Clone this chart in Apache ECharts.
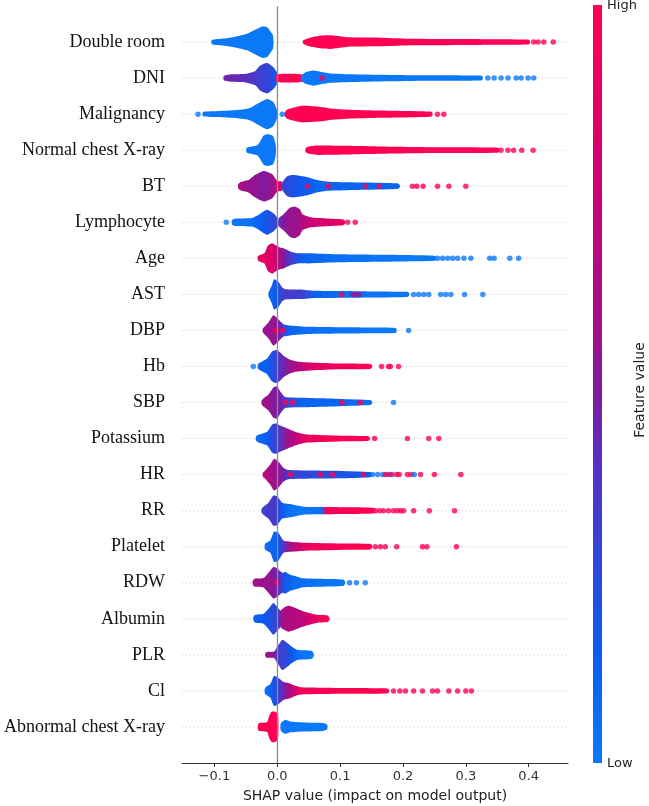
<!DOCTYPE html>
<html lang="en">
<head>
    <meta charset="utf-8">
    <title>SHAP summary plot</title>
    <script src="https://cdn.jsdelivr.net/npm/echarts@6/dist/echarts.min.js"></script>
</head>
<body style="margin:0;background:#fff">
<div id="main" style="width:649px;height:806px;"></div>
<script>
// feature names, top to bottom
var features = ['Double room', 'DNI', 'Malignancy', 'Normal chest X-ray', 'BT', 'Lymphocyte', 'Age', 'AST',
    'DBP', 'Hb', 'SBP', 'Potassium', 'HR', 'RR', 'Platelet', 'RDW', 'Albumin', 'PLR', 'Cl', 'Abnormal chest X-ray'];
var xTicks = [-0.1, 0, 0.1, 0.2, 0.3, 0.4];

// swarm bodies: segments of [shap value, half thickness in rows, feature value 0..1]
var doubleRoomBody = [
    [[-0.104,0.06,0],[-0.085,0.1,0],[-0.067,0.15,0],[-0.048,0.23,0],[-0.032,0.37,0],[-0.022,0.44,0],[-0.015,0.4,0],[-0.011,0.3,0],[-0.007,0.2,0],[-0.006,0.05,0]],
    [[0.041,0.04,1],[0.048,0.1,1],[0.057,0.14,1],[0.07,0.18,1],[0.085,0.19,1],[0.1,0.16,1],[0.112,0.13,1],[0.164,0.12,1],[0.217,0.09,1],[0.324,0.08,1],[0.399,0.07,1],[0.402,0.03,1]]
];
var dniBody = [
    [[-0.085,0.06,0.45],[-0.075,0.1,0.45],[-0.05,0.12,0.4],[-0.035,0.2,0.35],[-0.027,0.35,0.3],[-0.016,0.42,0.3],[-0.006,0.3,0.2],[0,0.14,0.1]],
    [[-0.002,0.1,1],[0.04,0.1,1]],
    [[0.038,0.06,0],[0.045,0.16,0],[0.057,0.21,0],[0.07,0.17,0],[0.085,0.13,0],[0.137,0.1,0],[0.217,0.08,0],[0.324,0.07,0],[0.327,0.03,0]]
];
var malignancyBody = [
    [[-0.118,0.06,0],[-0.1,0.08,0],[-0.075,0.1,0],[-0.06,0.12,0],[-0.048,0.15,0],[-0.04,0.2,0],[-0.032,0.28,0],[-0.016,0.42,0],[-0.006,0.33,0],[-0.001,0.15,0],[0,0.04,0]],
    [[0.012,0.05,1],[0.016,0.13,1],[0.03,0.2,1],[0.041,0.23,1],[0.069,0.2,1],[0.09,0.15,1],[0.112,0.125,1],[0.164,0.1,1],[0.244,0.07,1],[0.247,0.03,1]]
];
var normalXrayBody = [
    [[-0.049,0.06,0],[-0.045,0.09,0],[-0.032,0.14,0],[-0.027,0.25,0],[-0.022,0.4,0],[-0.016,0.44,0],[-0.007,0.4,0],[-0.003,0.2,0],[-0.002,0.05,0]],
    [[0.045,0.05,1],[0.05,0.1,1],[0.064,0.13,1],[0.112,0.12,1],[0.164,0.1,1],[0.25,0.08,1],[0.351,0.07,1],[0.354,0.03,1]]
];
var btBody = [
    [[-0.062,0.06,0.6],[-0.058,0.12,0.6],[-0.045,0.18,0.55],[-0.038,0.28,0.55],[-0.022,0.42,0.5],[-0.008,0.33,0.55],[0,0.15,0.8],[0.008,0.12,0.9]],
    [[0.008,0.1,0.3],[0.016,0.28,0.25],[0.026,0.31,0.2],[0.048,0.25,0.15],[0.064,0.17,0.1],[0.08,0.125,0.1],[0.112,0.11,0.1],[0.191,0.08,0.1],[0.195,0.03,0.1]]
];
var lymphocyteBody = [
    [[-0.072,0.06,0],[-0.068,0.1,0],[-0.04,0.12,0.05],[-0.03,0.2,0.1],[-0.022,0.3,0.15],[-0.016,0.35,0.2],[-0.006,0.25,0.25],[0.001,0.1,0.35]],
    [[0.002,0.1,0.4],[0.01,0.22,0.5],[0.02,0.4,0.55],[0.028,0.44,0.55],[0.036,0.36,0.6],[0.04,0.23,0.65],[0.053,0.14,0.75],[0.085,0.1,0.85],[0.105,0.08,0.9],[0.108,0.03,0.9]]
];
var ageBody = [
    [[-0.031,0.05,0.9],[-0.028,0.09,0.9],[-0.02,0.15,0.9],[-0.015,0.35,0.85],[-0.008,0.42,0.85],[-0.002,0.36,0.75],[0.004,0.3,0.6],[0.01,0.28,0.5],[0.021,0.19,0.35],[0.032,0.14,0.2],[0.05,0.14,0.1],[0.1,0.11,0.05],[0.2,0.09,0],[0.25,0.07,0],[0.253,0.03,0]]
];
var astBody = [
    [[-0.014,0.05,0.1],[-0.012,0.12,0.1],[-0.008,0.28,0.1],[-0.005,0.42,0.15],[0.002,0.34,0.2],[0.008,0.19,0.3],[0.013,0.14,0.35],[0.041,0.13,0.3],[0.06,0.1,0.1],[0.12,0.09,0.05],[0.207,0.07,0],[0.21,0.03,0]]
];
var dbpBody = [
    [[-0.023,0.05,0.55],[-0.02,0.11,0.55],[-0.014,0.22,0.55],[-0.006,0.42,0.55],[0.002,0.3,0.5],[0.01,0.17,0.3],[0.02,0.14,0.1],[0.05,0.1,0.05],[0.15,0.08,0],[0.188,0.07,0],[0.19,0.03,0]]
];
var hbBody = [
    [[-0.031,0.05,0.1],[-0.028,0.1,0.1],[-0.016,0.22,0.15],[-0.008,0.42,0.2],[-0.002,0.46,0.3],[0.005,0.39,0.4],[0.01,0.3,0.45],[0.021,0.19,0.55],[0.032,0.14,0.65],[0.053,0.11,0.85],[0.1,0.08,0.95],[0.148,0.07,1],[0.151,0.03,1]]
];
var sbpBody = [
    [[-0.025,0.05,0.6],[-0.022,0.11,0.6],[-0.014,0.22,0.55],[-0.006,0.42,0.5],[0,0.44,0.5],[0.006,0.28,0.45],[0.013,0.15,0.3],[0.04,0.13,0.1],[0.1,0.1,0.1],[0.148,0.07,0.05],[0.151,0.03,0.05]]
];
var potassiumBody = [
    [[-0.034,0.05,0.05],[-0.031,0.1,0.05],[-0.016,0.19,0.15],[-0.008,0.39,0.25],[-0.002,0.42,0.3],[0.005,0.36,0.4],[0.016,0.28,0.55],[0.032,0.17,0.75],[0.048,0.11,0.9],[0.1,0.08,1],[0.144,0.07,1],[0.147,0.03,1]]
];
var hrBody = [
    [[-0.023,0.05,0.7],[-0.02,0.1,0.7],[-0.011,0.28,0.6],[-0.005,0.44,0.55],[0.002,0.36,0.55],[0.01,0.19,0.45],[0.018,0.125,0.3],[0.1,0.1,0.2],[0.148,0.07,0.15],[0.151,0.03,0.15]]
];
var rrBody = [
    [[-0.025,0.05,0.3],[-0.022,0.11,0.3],[-0.014,0.22,0.35],[-0.006,0.42,0.35],[0,0.4,0.3],[0.008,0.22,0.15],[0.018,0.19,0.05],[0.032,0.14,0],[0.041,0.11,0],[0.07,0.1,0.05],[0.078,0.1,0.95],[0.153,0.08,1],[0.156,0.03,1]]
];
var plateletBody = [
    [[-0.02,0.05,0.05],[-0.018,0.1,0.05],[-0.011,0.17,0.1],[-0.005,0.42,0.1],[0.002,0.38,0.15],[0.01,0.17,0.4],[0.021,0.14,0.6],[0.045,0.11,0.9],[0.1,0.09,1],[0.148,0.08,1],[0.151,0.03,1]]
];
var rdwBody = [
    [[-0.039,0.05,0.6],[-0.036,0.11,0.6],[-0.022,0.13,0.55],[-0.014,0.28,0.55],[-0.006,0.44,0.5],[0,0.39,0.45],[0.008,0.28,0.3],[0.013,0.3,0.15],[0.021,0.22,0.1],[0.032,0.17,0.05],[0.041,0.125,0.05],[0.105,0.09,0],[0.108,0.03,0]]
];
var albuminBody = [
    [[-0.038,0.05,0.1],[-0.035,0.11,0.1],[-0.022,0.14,0.15],[-0.014,0.28,0.2],[-0.006,0.44,0.25],[0,0.33,0.3],[0.005,0.22,0.4]],
    [[0.004,0.2,0.5],[0.01,0.3,0.6],[0.018,0.36,0.65],[0.029,0.3,0.65],[0.04,0.22,0.7],[0.05,0.17,0.8],[0.064,0.11,0.9],[0.08,0.09,1],[0.083,0.03,1]]
];
var plrBody = [
    [[-0.019,0.04,0.6],[-0.017,0.08,0.6],[-0.005,0.09,0.5],[-0.001,0.2,0.4],[0.003,0.3,0.3],[0.008,0.42,0.3],[0.016,0.33,0.25],[0.024,0.22,0.15],[0.032,0.14,0.05],[0.05,0.12,0],[0.056,0.1,0],[0.058,0.03,0]]
];
var clBody = [
    [[-0.02,0.05,0.05],[-0.018,0.11,0.05],[-0.011,0.19,0.1],[-0.005,0.42,0.2],[0.002,0.36,0.3],[0.01,0.25,0.45],[0.018,0.22,0.6],[0.029,0.14,0.8],[0.037,0.1,0.95],[0.1,0.08,1],[0.175,0.07,1],[0.178,0.03,1]]
];
var abnormalXrayBody = [
    [[-0.031,0.05,1],[-0.029,0.11,1],[-0.016,0.14,1],[-0.013,0.3,1],[-0.009,0.42,1],[-0.003,0.42,1],[0.001,0.35,1],[0.002,0.05,1]],
    [[0.005,0.05,0],[0.006,0.11,0],[0.01,0.17,0],[0.014,0.19,0],[0.021,0.15,0],[0.041,0.125,0],[0.073,0.11,0],[0.079,0.07,0],[0.08,0.03,0]]
];

// single visible points: [shap value, feature value 0..1]
var doubleRoomDots = [[0.408,1],[0.415,1],[0.424,1],[0.439,1]];
var dniDots = [[0.071,1],[0.335,0],[0.345,0],[0.356,0],[0.367,0],[0.38,0],[0.388,0],[0.399,0],[0.408,0]];
var malignancyDots = [[-0.126,0],[0.008,0],[0.255,1],[0.265,1]];
var normalXrayDots = [[0.356,1],[0.367,1],[0.376,1],[0.389,1],[0.407,1]];
var btDots = [[0.048,1],[0.081,1],[0.14,1],[0.162,1],[0.215,1],[0.222,1],[0.232,1],[0.255,1],[0.273,1],[0.3,1]];
var lymphocyteDots = [[-0.081,0],[0.112,1],[0.124,1]];
var ageDots = [[0.255,0],[0.263,0],[0.271,0],[0.279,0],[0.287,0],[0.297,0],[0.308,0],[0.338,0],[0.345,0],[0.37,0],[0.384,0]];
var astDots = [[0.102,1],[0.121,0.6],[0.129,0.6],[0.217,0],[0.225,0],[0.233,0],[0.241,0],[0.26,0],[0.268,0],[0.276,0],[0.298,0],[0.327,0]];
var dbpDots = [[-0.003,1],[0.008,1],[0.209,0]];
var hbDots = [[-0.038,0],[0.166,1],[0.177,1],[0.18,1],[0.193,1]];
var sbpDots = [[0.013,1],[0.024,1],[0.103,1],[0.132,1],[0.185,0]];
var potassiumDots = [[0.155,1],[0.207,1],[0.241,1],[0.257,1]];
var hrDots = [[0.021,1],[0.069,1],[0.088,1],[0.137,1],[0.152,0],[0.16,0],[0.168,0],[0.175,0],[0.183,0],[0.172,1],[0.18,1],[0.19,1],[0.194,1],[0.207,1],[0.213,1],[0.218,0],[0.228,1],[0.25,1],[0.292,1]];
var rrDots = [[0.156,1],[0.163,1],[0.169,1],[0.177,1],[0.185,1],[0.191,1],[0.196,1],[0.201,1],[0.217,1],[0.242,1],[0.282,1]];
var plateletDots = [[0.156,1],[0.164,1],[0.172,1],[0.19,1],[0.231,1],[0.238,1],[0.285,1]];
var rdwDots = [[-0.002,1],[0.115,0],[0.126,0],[0.14,0]];
var albuminDots = [];
var plrDots = [];
var clDots = [[0.185,1],[0.195,1],[0.204,1],[0.217,1],[0.231,1],[0.247,1],[0.255,1],[0.273,1],[0.287,1],[0.3,1],[0.309,1]];
var abnormalXrayDots = [];

var bodies = [doubleRoomBody, dniBody, malignancyBody, normalXrayBody, btBody, lymphocyteBody, ageBody, astBody,
    dbpBody, hbBody, sbpBody, potassiumBody, hrBody, rrBody, plateletBody, rdwBody, albuminBody, plrBody, clBody, abnormalXrayBody];
var dots = [doubleRoomDots, dniDots, malignancyDots, normalXrayDots, btDots, lymphocyteDots, ageDots, astDots,
    dbpDots, hbDots, sbpDots, potassiumDots, hrDots, rrDots, plateletDots, rdwDots, albuminDots, plrDots, clDots, abnormalXrayDots];

// blue -> purple -> red colour map
var cmap = [[0,'#0b78f8'],[0.15,'#0a5cef'],[0.4,'#5a30c0'],[0.48,'#7a1ca2'],[0.57,'#a0108a'],[0.8,'#d4006f'],[1,'#ff0052']];
function hexRgb(h) { return [parseInt(h.substr(1,2),16), parseInt(h.substr(3,2),16), parseInt(h.substr(5,2),16)]; }
function featureColor(v) {
    v = Math.max(0, Math.min(1, v));
    for (var k = 1; k < cmap.length; k++) {
        if (v <= cmap[k][0]) {
            var a = hexRgb(cmap[k-1][1]), b = hexRgb(cmap[k][1]);
            var t = (v - cmap[k-1][0]) / (cmap[k][0] - cmap[k-1][0]);
            return 'rgb(' + a.map(function (c, j) { return Math.round(c + (b[j] - c) * t); }).join(',') + ')';
        }
    }
    return cmap[cmap.length-1][1];
}

var n = features.length;
var segData = [], dotData = [];
bodies.forEach(function (segs, i) {
    segs.forEach(function (s, j) { segData.push([i, j]); });
});
dots.forEach(function (list, i) {
    list.forEach(function (d) { dotData.push([d[0], n - 1 - i, d[1]]); });
});

var myChart = echarts.init(document.getElementById('main'));

myChart.setOption({
    animation: false,
    grid: { left: 182, right: 81, top: 6, bottom: 43, containLabel: false, outerBoundsMode: 'none' },
    xAxis: {
        type: 'value', min: -0.1515, max: 0.4625,
        splitLine: { show: false },
        axisLine: { onZero: false, lineStyle: { color: '#333', width: 1 } },
        axisTick: { length: 4, customValues: xTicks, lineStyle: { color: '#333' } },
        axisLabel: {
            customValues: xTicks, margin: 7, color: '#333', fontFamily: 'DejaVu Sans', fontSize: 13,
            formatter: function (v) { return v < 0 ? '\u2212' + Math.abs(v).toFixed(1) : v.toFixed(1); }
        },
        name: 'SHAP value (impact on model output)', nameLocation: 'middle', nameGap: 26,
        nameTextStyle: { color: '#222', fontFamily: 'DejaVu Sans', fontSize: 14 }
    },
    yAxis: {
        type: 'value', min: -1, max: 20, interval: 1,
        splitLine: { show: false }, axisLine: { show: false }, axisTick: { show: false },
        axisLabel: {
            margin: 17, color: '#111', fontFamily: 'Liberation Serif', fontSize: 18,
            formatter: function (v) { return features[n - 1 - Math.round(v)] || ''; }
        }
    },
    series: [{
        // dotted row guides
        type: 'custom', z: 1, silent: true,
        data: features.map(function (f, i) { return [0, n - 1 - i]; }),
        renderItem: function (params, api) {
            var cs = params.coordSys, y = api.coord([0, api.value(1)])[1];
            return { type: 'line', shape: { x1: cs.x, y1: y, x2: cs.x + cs.width, y2: y },
                style: { stroke: '#c8c8c8', lineWidth: 1, lineDash: [1, 3] } };
        }
    }, {
        // dense part of each swarm
        type: 'custom', z: 2, silent: true,
        data: segData,
        renderItem: function (params, api) {
            var i = api.value(0), seg = bodies[i][api.value(1)], row = n - 1 - i;
            var top = [], bottom = [];
            seg.forEach(function (p) {
                top.push(api.coord([p[0], row + p[1]]));
                bottom.unshift(api.coord([p[0], row - p[1]]));
            });
            var x0 = api.coord([seg[0][0], row])[0], x1 = api.coord([seg[seg.length-1][0], row])[0];
            var stops = seg.map(function (p) {
                return { offset: (api.coord([p[0], row])[0] - x0) / (x1 - x0), color: featureColor(p[2]) };
            });
            return { type: 'polygon', shape: { points: top.concat(bottom), smooth: 0.2 },
                style: { fill: new echarts.graphic.LinearGradient(x0, 0, x1, 0, stops, true) } };
        }
    }, {
        type: 'scatter', z: 3, silent: true,
        symbolSize: 5.5,
        data: dotData,
        itemStyle: { color: function (p) { return featureColor(p.value[2]); } },
        markLine: {
            silent: true, symbol: ['none', 'none'], label: { show: false },
            lineStyle: { color: '#8c8c8c', width: 1.3, type: 'solid' },
            data: [{ xAxis: 0 }]
        }
    }],
    graphic: [{
        type: 'rect', shape: { x: 593, y: 5, width: 9, height: 758 },
        style: { fill: new echarts.graphic.LinearGradient(0, 0, 0, 1,
            cmap.slice().reverse().map(function (c) { return { offset: 1 - c[0], color: c[1] }; })) }
    }, {
        type: 'text', x: 607, y: 6,
        style: { text: 'High', fill: '#222', font: '13px "DejaVu Sans"', verticalAlign: 'middle' }
    }, {
        type: 'text', x: 607, y: 764,
        style: { text: 'Low', fill: '#222', font: '13px "DejaVu Sans"', verticalAlign: 'middle' }
    }, {
        type: 'text', x: 640, y: 390, rotation: Math.PI / 2,
        style: { text: 'Feature value', fill: '#222', font: '14px "DejaVu Sans"', align: 'center', verticalAlign: 'middle' }
    }]
});
</script>
</body>
</html>
